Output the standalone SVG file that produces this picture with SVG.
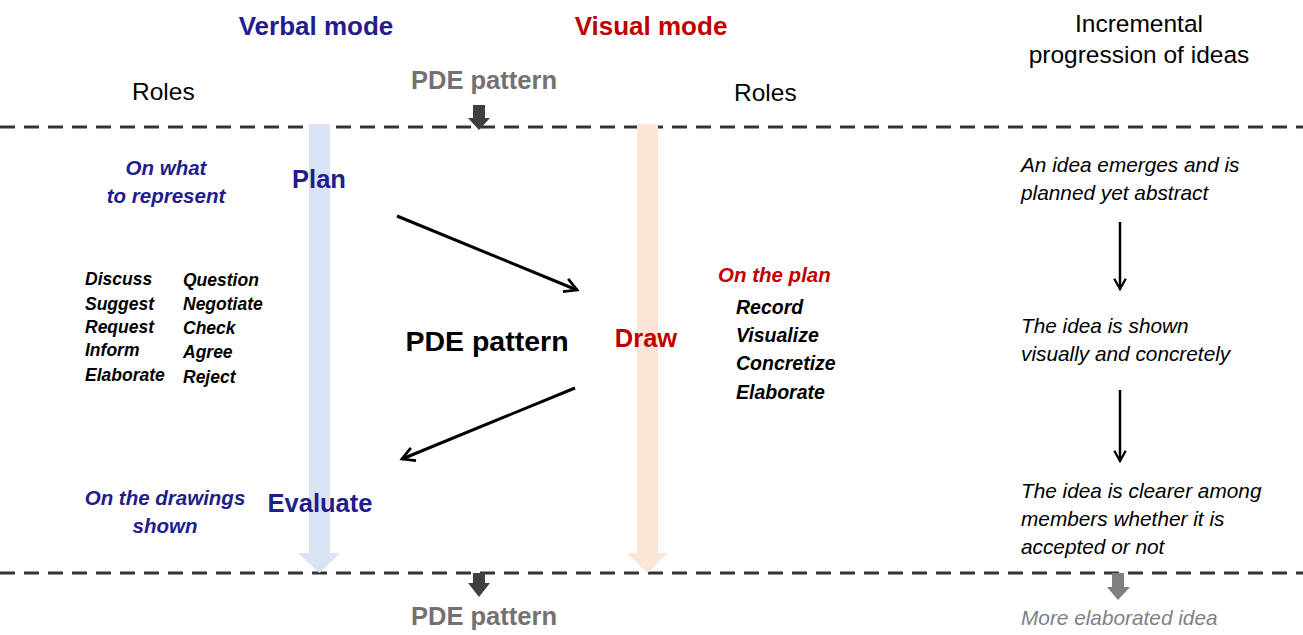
<svg xmlns="http://www.w3.org/2000/svg" width="1303" height="635" viewBox="0 0 1303 635">
  <defs>
    <style>
      text { font-family: "Liberation Sans", Arial, sans-serif; }
      .head { font-size: 26px; font-weight: bold; text-anchor: middle; }
      .blue { fill: #221c8c; }
      .red { fill: #c00000; }
      .grey { fill: #767171; }
      .role { font-size: 24.5px; fill: #000; }
      .phase { font-size: 25.5px; font-weight: bold; }
      .note { font-size: 20.5px; font-weight: bold; font-style: italic; }
      .verb { font-size: 17.5px; font-weight: bold; font-style: italic; fill: #000; }
      .act { font-size: 19.5px; font-weight: bold; font-style: italic; fill: #000; }
      .prog { font-size: 20.8px; font-style: italic; fill: #000; }
      .dash { stroke: #333; stroke-width: 3; stroke-dasharray: 15 9; fill: none; }
      .link { stroke: #000; stroke-width: 3; fill: none; }
    </style>
    <marker id="open" viewBox="0 0 12 12" refX="10" refY="6" markerWidth="5.5" markerHeight="5.5" orient="auto" markerUnits="strokeWidth">
      <path d="M1,1 L10,6 L1,11" fill="none" stroke="#000" stroke-width="2"/>
    </marker>
  </defs>

  <!-- headings -->
  <g id="headings">
    <text class="head blue" x="316" y="35">Verbal mode</text>
    <text class="head red" x="651" y="35">Visual mode</text>
    <text x="1139" y="32" style="font-size:24.5px;text-anchor:middle">Incremental</text>
    <text x="1139" y="63" style="font-size:24.5px;text-anchor:middle">progression of ideas</text>
    <text class="role" x="132" y="100">Roles</text>
    <text class="role" x="734" y="101">Roles</text>
    <text class="grey" x="484" y="89" style="font-size:25.5px;font-weight:bold;text-anchor:middle">PDE pattern</text>
  </g>

  <!-- phase separators -->
  <g id="separators">
    <line class="dash" x1="0" y1="127" x2="1303" y2="127"/>
    <line class="dash" x1="0" y1="573" x2="1303" y2="573"/>
  </g>

  <!-- mode flow bars -->
  <g id="verbal-bar">
    <path d="M309,124 H330 V553 H340 L319.5,573 L298,553 H309 Z" fill="#dae3f3"/>
  </g>
  <g id="visual-bar">
    <path d="M637,124 H658 V553 H668 L647.5,573 L627,553 H637 Z" fill="#fbe5d6"/>
  </g>

  <!-- block arrows -->
  <g id="pattern-in">
    <path d="M473,105 H485 V118 H490 L479,130 L468,118 H473 Z" fill="#404040"/>
  </g>
  <g id="pattern-out">
    <path d="M473,573 H485 V583 H490 L479,597 L468,583 H473 Z" fill="#404040"/>
  </g>
  <g id="idea-out">
    <path d="M1112,573 H1124 V587 H1130 L1118,600 L1107,587 H1112 Z" fill="#7f7f7f"/>
  </g>

  <!-- connectors -->
  <g id="connectors">
    <line class="link" x1="397" y1="216" x2="577" y2="290" marker-end="url(#open)"/>
    <line class="link" x1="575" y1="388" x2="402" y2="459" marker-end="url(#open)"/>
    <line x1="1120" y1="222" x2="1120" y2="289" stroke="#000" stroke-width="2.5" marker-end="url(#open)"/>
    <line x1="1120" y1="390" x2="1120" y2="461" stroke="#000" stroke-width="2.5" marker-end="url(#open)"/>
  </g>

  <!-- verbal roles -->
  <g id="plan">
    <text class="phase blue" x="319" y="188" text-anchor="middle">Plan</text>
    <text class="note blue" x="166" y="175" text-anchor="middle">On what</text>
    <text class="note blue" x="166" y="203" text-anchor="middle">to represent</text>
  </g>
  <g id="verbal-acts">
    <text class="verb" x="85" y="285">Discuss</text>
    <text class="verb" x="85" y="310">Suggest</text>
    <text class="verb" x="85" y="333">Request</text>
    <text class="verb" x="85" y="356">Inform</text>
    <text class="verb" x="85" y="381">Elaborate</text>
    <text class="verb" x="183" y="286">Question</text>
    <text class="verb" x="183" y="310">Negotiate</text>
    <text class="verb" x="183" y="334">Check</text>
    <text class="verb" x="183" y="358">Agree</text>
    <text class="verb" x="183" y="383">Reject</text>
  </g>
  <g id="evaluate">
    <text class="phase blue" x="320" y="512" text-anchor="middle">Evaluate</text>
    <text class="note blue" x="165" y="505" text-anchor="middle">On the drawings</text>
    <text class="note blue" x="165" y="533" text-anchor="middle">shown</text>
  </g>

  <!-- centre label -->
  <g id="pattern">
    <text x="487" y="351" style="font-size:28.5px;font-weight:bold;text-anchor:middle">PDE pattern</text>
  </g>

  <!-- visual roles -->
  <g id="draw">
    <text class="phase red" x="646" y="347" text-anchor="middle">Draw</text>
    <text class="note red" x="718" y="282">On the plan</text>
    <text class="act" x="736" y="314">Record</text>
    <text class="act" x="736" y="342">Visualize</text>
    <text class="act" x="736" y="370">Concretize</text>
    <text class="act" x="736" y="399">Elaborate</text>
  </g>

  <!-- idea progression -->
  <g id="idea-1">
    <text class="prog" x="1021" y="172">An idea emerges and is</text>
    <text class="prog" x="1021" y="200">planned yet abstract</text>
  </g>
  <g id="idea-2">
    <text class="prog" x="1021" y="333">The idea is shown</text>
    <text class="prog" x="1021" y="361">visually and concretely</text>
  </g>
  <g id="idea-3">
    <text class="prog" x="1021" y="498">The idea is clearer among</text>
    <text class="prog" x="1021" y="526">members whether it is</text>
    <text class="prog" x="1021" y="554">accepted or not</text>
  </g>

  <!-- bottom labels -->
  <g id="footer">
    <text class="grey" x="484" y="625" style="font-size:25.5px;font-weight:bold;text-anchor:middle">PDE pattern</text>
    <text x="1021" y="625" style="font-size:20.8px;font-style:italic;fill:#7f7f7f">More elaborated idea</text>
  </g>
</svg>
